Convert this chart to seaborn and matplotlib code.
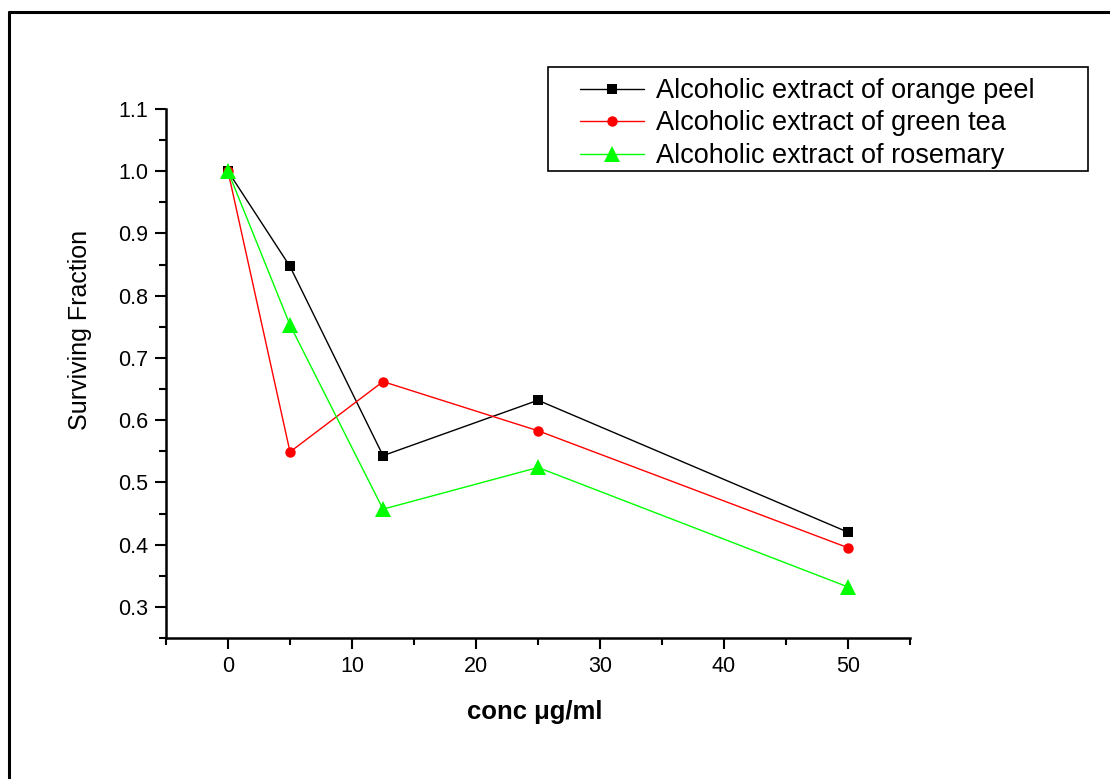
import matplotlib
matplotlib.use("Agg")
import matplotlib.pyplot as plt
from matplotlib.lines import Line2D
from matplotlib.patches import Rectangle
from matplotlib.ticker import MultipleLocator
import seaborn as sns
import pandas as pd

conc = [0, 5, 12.5, 25, 50]
orange_peel = [1.0, 0.847, 0.543, 0.632, 0.420]
green_tea = [1.0, 0.549, 0.662, 0.583, 0.395]
rosemary = [1.0, 0.753, 0.457, 0.524, 0.332]
series_names = ["Alcoholic extract of orange peel",
                "Alcoholic extract of green tea",
                "Alcoholic extract of rosemary"]

df = pd.concat([
    pd.DataFrame({"conc": conc, "sf": orange_peel, "series": series_names[0]}),
    pd.DataFrame({"conc": conc, "sf": green_tea, "series": series_names[1]}),
    pd.DataFrame({"conc": conc, "sf": rosemary, "series": series_names[2]}),
])

sns.set_style("white")
plt.rcParams['font.family'] = ['Liberation Sans', 'DejaVu Sans']
plt.rcParams['text.color'] = 'black'
plt.rcParams['axes.labelcolor'] = 'black'
plt.rcParams['xtick.color'] = 'black'
plt.rcParams['ytick.color'] = 'black'

W, H = 1110, 779
fig = plt.figure(figsize=(W/100, H/100), dpi=100)
ax = fig.add_axes([166/W, 1-638/H, (910-166)/W, (638-109)/H])

palette = {series_names[0]: "black", series_names[1]: "red", series_names[2]: "#00ff00"}
markers = {series_names[0]: "s", series_names[1]: "o", series_names[2]: "^"}
sizes = {series_names[0]: 6.5, series_names[1]: 7.5, series_names[2]: 11}
for name in series_names:
    sub = df[df["series"] == name]
    sns.lineplot(data=sub, x="conc", y="sf", ax=ax, color=palette[name],
                 marker=markers[name], markersize=sizes[name], markeredgewidth=0,
                 linewidth=1, label=name)

ax.set_xlim(-5, 55)
ax.set_ylim(0.25, 1.1)
ax.xaxis.set_major_locator(MultipleLocator(10))
ax.xaxis.set_minor_locator(MultipleLocator(5))
ax.yaxis.set_major_locator(MultipleLocator(0.1))
ax.yaxis.set_minor_locator(MultipleLocator(0.05))
ax.yaxis.set_major_formatter(matplotlib.ticker.FormatStrFormatter('%.1f'))
for s in ["top", "right"]:
    ax.spines[s].set_visible(False)
for s in ["left", "bottom"]:
    ax.spines[s].set_linewidth(1.8)
    ax.spines[s].set_color("black")
ax.tick_params(which="major", direction="out", length=8, width=1.5, labelsize=15.5,
               bottom=True, left=True, colors="black", pad=5)
ax.tick_params(which="minor", direction="out", length=5, width=1.5, bottom=True, left=True)

ax.set_xlabel("conc μg/ml", fontsize=18.5, fontweight="bold", color="black")
ax.set_ylabel("Surviving Fraction", fontsize=18, color="black")
ax.xaxis.set_label_coords(((535-166)/(910-166)), -(712-638)/(638-109), transform=ax.transAxes)
ax.yaxis.set_label_coords(-(166-80)/(910-166), (638-330)/(638-109), transform=ax.transAxes)
ax.xaxis.label.set_va("center")
ax.yaxis.label.set_va("center")

leg = ax.legend(loc="upper left",
                bbox_to_anchor=(580/W, 1-78/H),
                bbox_transform=fig.transFigure,
                fontsize=19.5, frameon=False, handlelength=2.35,
                handletextpad=0.45, borderpad=0, labelspacing=0.24, borderaxespad=0)
for t in leg.get_texts():
    t.set_color("black")

# legend box
fig.add_artist(Rectangle((548/W, 1-171/H), (1088-548)/W, (171-67)/H, fill=False,
                         edgecolor="black", linewidth=1.2, transform=fig.transFigure))

# outer frame (top and left edges visible)
fig.add_artist(Line2D([9/W, 9/W], [0, 1-12/H], color="black", linewidth=2.2,
                      transform=fig.transFigure))
fig.add_artist(Line2D([9/W, 1], [1-12/H, 1-12/H], color="black", linewidth=2.2,
                      transform=fig.transFigure))

fig.savefig("out.png", dpi=100)
